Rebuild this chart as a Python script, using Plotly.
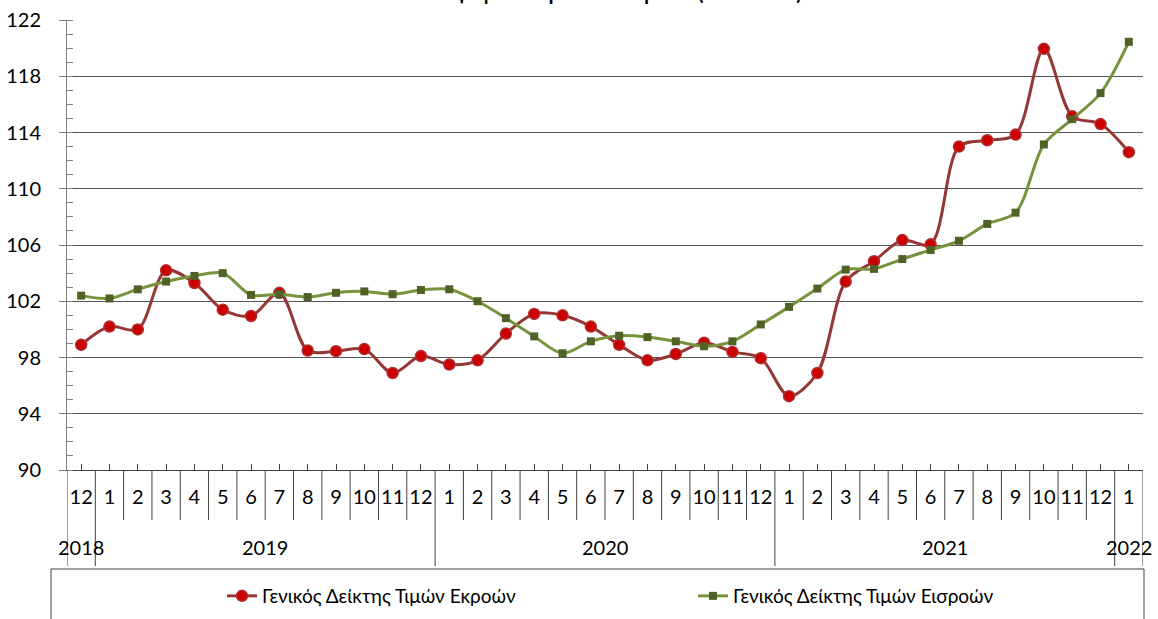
import plotly.graph_objects as go

months = ["12", "1", "2", "3", "4", "5", "6", "7", "8", "9", "10", "11", "12",
          "1", "2", "3", "4", "5", "6", "7", "8", "9", "10", "11", "12",
          "1", "2", "3", "4", "5", "6", "7", "8", "9", "10", "11", "12", "1"]
years = ["2018"] + ["2019"] * 12 + ["2020"] * 12 + ["2021"] * 12 + ["2022"]

output_index = [98.9, 100.2, 100.0, 104.2, 103.3, 101.4, 100.95, 102.6, 98.5, 98.45, 98.6, 96.9, 98.1,
                97.5, 97.8, 99.7, 101.1, 101.0, 100.2, 98.9, 97.8, 98.25, 99.05, 98.4, 97.95,
                95.25, 96.9, 103.4, 104.85, 106.35, 106.05, 113.0, 113.45, 113.85, 119.95, 115.15, 114.6, 112.6]
input_index = [102.4, 102.2, 102.85, 103.4, 103.8, 104.0, 102.45, 102.5, 102.3, 102.6, 102.7, 102.5, 102.8,
               102.85, 102.0, 100.8, 99.5, 98.3, 99.15, 99.55, 99.45, 99.15, 98.8, 99.15, 100.35,
               101.6, 102.9, 104.25, 104.3, 105.0, 105.65, 106.3, 107.5, 108.3, 113.15, 114.95, 116.8, 120.45]

series_names = ["Γενικός Δείκτης Τιμών Εκροών", "Γενικός Δείκτης Τιμών Εισροών"]
title_text = "Γενικοί Δείκτες Τιμών Εκροών - Εισροών (2015=100)"

FONT = "Lato, 'Noto Sans', sans-serif"
W, H = 1158, 619
L, R, T, B = 67, 15, 20, 149
plot_h = H - T - B
plot_w = W - L - R


def py(pix):
    """pixel row -> paper y"""
    return (H - B - pix) / plot_h


def px(pix):
    return (pix - L) / plot_w


x = list(range(len(months)))

fig = go.Figure()
fig.add_trace(go.Scatter(
    x=x, y=output_index, name=series_names[0], mode="lines+markers", legend="legend",
    line=dict(color="#953735", width=3, shape="spline", smoothing=0.9),
    marker=dict(symbol="circle", size=11, color="#CC0000", line=dict(color="#B03030", width=1.5)),
))
fig.add_trace(go.Scatter(
    x=x, y=input_index, name=series_names[1], mode="lines+markers", legend="legend2",
    line=dict(color="#77933C", width=3, shape="spline", smoothing=0.9),
    marker=dict(symbol="square", size=8, color="#4F6228"),
))

shapes = []
n = len(months)
# separators between categories (short for months, long at year changes)
for i in range(0, n + 1):
    xb = i - 0.5
    long_line = i == 0 or i == n or years[i] != years[i - 1]
    shapes.append(dict(type="line", xref="x", yref="paper", x0=xb, x1=xb,
                       y0=0, y1=py(566) if long_line else py(520),
                       line=dict(color="#404040", width=1)))
# legend box
shapes.append(dict(type="rect", xref="paper", yref="paper",
                   x0=px(51), x1=px(1144), y0=py(569), y1=py(640),
                   line=dict(color="#404040", width=1), fillcolor="rgba(0,0,0,0)"))

annotations = []
seen = []
for yv in years:
    if yv not in seen:
        seen.append(yv)
for yv in seen:
    idx = [i for i, v in enumerate(years) if v == yv]
    annotations.append(dict(x=sum(idx) / len(idx), y=py(547), xref="x", yref="paper",
                            text=yv, showarrow=False, yanchor="middle",
                            font=dict(size=20, color="#000000", family=FONT)))
annotations.append(dict(x=px(567), y=py(6), xref="paper", yref="paper",
                        text="<b>" + title_text + "</b>", showarrow=False, yanchor="bottom",
                        xanchor="center", font=dict(size=20, color="#000000", family=FONT)))

legend_common = dict(orientation="h", xanchor="left", yanchor="middle", y=py(596),
                     font=dict(size=19, family=FONT, color="#000000"),
                     bgcolor="rgba(0,0,0,0)", borderwidth=0, itemwidth=30)

fig.update_layout(
    width=W, height=H,
    margin=dict(l=L, r=R, t=T, b=B, pad=0, autoexpand=False),
    paper_bgcolor="white", plot_bgcolor="white",
    font=dict(family=FONT, size=20, color="#000000"),
    showlegend=True,
    legend=dict(x=px(222), **legend_common),
    legend2=dict(x=px(693), **legend_common),
    shapes=shapes,
    annotations=annotations,
    xaxis=dict(range=[-0.5, n - 0.5], tickmode="array", tickvals=x, ticktext=months,
               showgrid=False, zeroline=False, showline=True, linecolor="#404040", linewidth=1,
               ticks="inside", ticklen=6, tickcolor="#404040", ticklabelstandoff=9,
               tickfont=dict(size=20, family=FONT, color="#000000"), fixedrange=True,
               automargin=False),
    yaxis=dict(range=[90, 122], dtick=4, tick0=90, showgrid=True, gridcolor="#555555", gridwidth=1,
               zeroline=False, showline=True, linecolor="#808080", linewidth=1,
               ticks="outside", ticklen=7, tickcolor="#808080", ticklabelstandoff=14,
               minor=dict(dtick=1, ticks="inside", ticklen=6, tickcolor="#808080", showgrid=False),
               tickfont=dict(size=20, family=FONT, color="#000000"), fixedrange=True,
               automargin=False),
)

fig.write_html("out.html", config={"displayModeBar": False},
               post_script="document.body.style.margin='0px';document.body.style.overflow='hidden';")
